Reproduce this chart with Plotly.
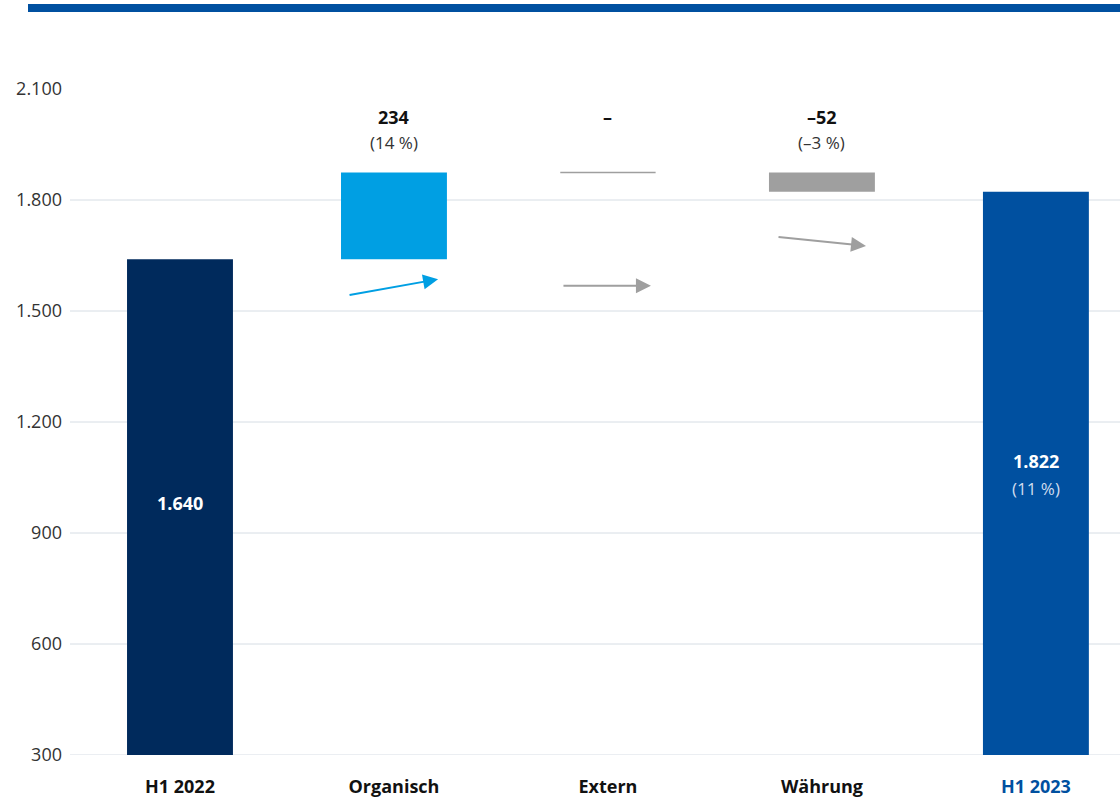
import plotly.graph_objects as go

# ---- data ----
categories = ["H1 2022", "Organisch", "Extern", "Währung", "H1 2023"]
start_value = 1640
deltas = [234, 0, -52]          # Organisch, Extern, Währung
end_value = 1822
y_ticks = [300, 600, 900, 1200, 1500, 1800, 2100]
y_tick_labels = ["300", "600", "900", "1.200", "1.500", "1.800", "2.100"]

# ---- styles ----
C_START = "#002a5c"
C_END = "#0050a0"
C_ORG = "#009fe3"
C_GRAY = "#9f9f9f"
C_GRID = "#d6dde4"
FONT = "Open Sans"
BAR_W = 0.495


def de_num(v):
    s = f"{abs(v):,}".replace(",", ".")
    return ("\u2013" + s) if v < 0 else s


def de_pct(p):
    r = round(p)
    return f"(\u2013{abs(r)} %)" if r < 0 else f"({r} %)"


fig = go.Figure()

# cumulative bases
bases = []
cum = start_value
for d in deltas:
    bases.append(cum)
    cum += d

# totals
fig.add_trace(go.Bar(x=[categories[0]], y=[start_value], width=BAR_W,
                     marker=dict(color=C_START, line=dict(width=0)), hoverinfo="skip"))
fig.add_trace(go.Bar(x=[categories[4]], y=[end_value], width=BAR_W,
                     marker=dict(color=C_END, line=dict(width=0)), hoverinfo="skip"))
# deltas
delta_colors = [C_ORG, C_GRAY, C_GRAY]
for i, d in enumerate(deltas):
    if d != 0:
        fig.add_trace(go.Bar(x=[categories[i + 1]], y=[d], base=[bases[i]], width=BAR_W,
                             marker=dict(color=delta_colors[i], line=dict(width=0)),
                             hoverinfo="skip"))

shapes = []
# zero-change marker line (Extern)
for i, d in enumerate(deltas):
    if d == 0:
        shapes.append(dict(type="line", xref="x", yref="y",
                           x0=i + 1 - BAR_W * 0.45, x1=i + 1 + BAR_W * 0.45,
                           y0=bases[i], y1=bases[i],
                           line=dict(color=C_GRAY, width=1.5), layer="above"))

# gridlines (none at top tick)
for t in y_ticks[:-1]:
    shapes.append(dict(type="line", xref="paper", yref="y", x0=0, x1=1, y0=t, y1=t,
                       line=dict(color=C_GRID, width=1), layer="below"))

# top blue rule
shapes.append(dict(type="rect", xref="paper", yref="paper", x0=-0.04, x1=1.0,
                   y0=1.1156, y1=1.1276, fillcolor=C_END, line=dict(width=0),
                   layer="above"))

annotations = []
# delta labels on top
for i, d in enumerate(deltas):
    cx = i + 1
    annotations.append(dict(x=cx, y=0.958, xref="x", yref="paper", yanchor="middle",
                            showarrow=False,
                            text=f"<b>{de_num(d) if d != 0 else chr(8211)}</b>",
                            font=dict(family=FONT, size=18, color="#111111")))
    if d != 0:
        annotations.append(dict(x=cx, y=0.919, xref="x", yref="paper", yanchor="middle",
                                showarrow=False,
                                text=de_pct(d / start_value * 100),
                                font=dict(family=FONT, size=17, color="#333333")))

# inside labels
y_min = y_ticks[0]
annotations.append(dict(x=0, y=(y_min + start_value) / 2, xref="x", yref="y", yshift=4,
                        showarrow=False, text=f"<b>{de_num(start_value)}</b>",
                        font=dict(family=FONT, size=18, color="white")))
mid_end = (y_min + end_value) / 2
annotations.append(dict(x=4, y=mid_end, xref="x", yref="y", yshift=12,
                        showarrow=False, text=f"<b>{de_num(end_value)}</b>",
                        font=dict(family=FONT, size=18, color="white")))
annotations.append(dict(x=4, y=mid_end, xref="x", yref="y", yshift=-15,
                        showarrow=False,
                        text=de_pct((end_value / start_value - 1) * 100),
                        font=dict(family=FONT, size=17, color="#cfdcee")))

# decorative trend arrows
arrow_specs = [
    (1.206, 1586, -90, 16, C_ORG),
    (2.201, 1568, -89, 0, C_GRAY),
    (3.206, 1676, -89, -9, C_GRAY),
]
for x, y, ax, ay, col in arrow_specs:
    annotations.append(dict(x=x, y=y, xref="x", yref="y", ax=ax, ay=ay, text="",
                            showarrow=True, arrowhead=2, arrowsize=1.5, arrowwidth=2,
                            arrowcolor=col))

tick_text = [f"<b>{c}</b>" for c in categories[:-1]] + \
            [f"<b><span style='color:{C_END}'>{categories[-1]}</span></b>"]

fig.update_layout(
    width=1120, height=810,
    margin=dict(l=70, r=0, t=89, b=55),
    paper_bgcolor="white", plot_bgcolor="white",
    showlegend=False, barmode="overlay",
    shapes=shapes, annotations=annotations,
    font=dict(family=FONT, color="#333333"),
    xaxis=dict(type="category", categoryorder="array", categoryarray=categories,
               range=[-0.514, 4.393], tickmode="array", tickvals=categories,
               ticktext=tick_text, tickfont=dict(family=FONT, size=18, color="#111111"),
               showgrid=False, zeroline=False, showline=False, ticks="",
               ticklabelstandoff=19),
    yaxis=dict(range=[y_ticks[0], y_ticks[-1]], tickmode="array", tickvals=y_ticks,
               ticktext=y_tick_labels, tickfont=dict(family=FONT, size=18, color="#333333"),
               showgrid=False, zeroline=False, showline=False, ticks="",
               ticklabelstandoff=7),
)

fig.write_html("out.html", config={"displayModeBar": False},
               post_script="document.body.style.margin='0';")
